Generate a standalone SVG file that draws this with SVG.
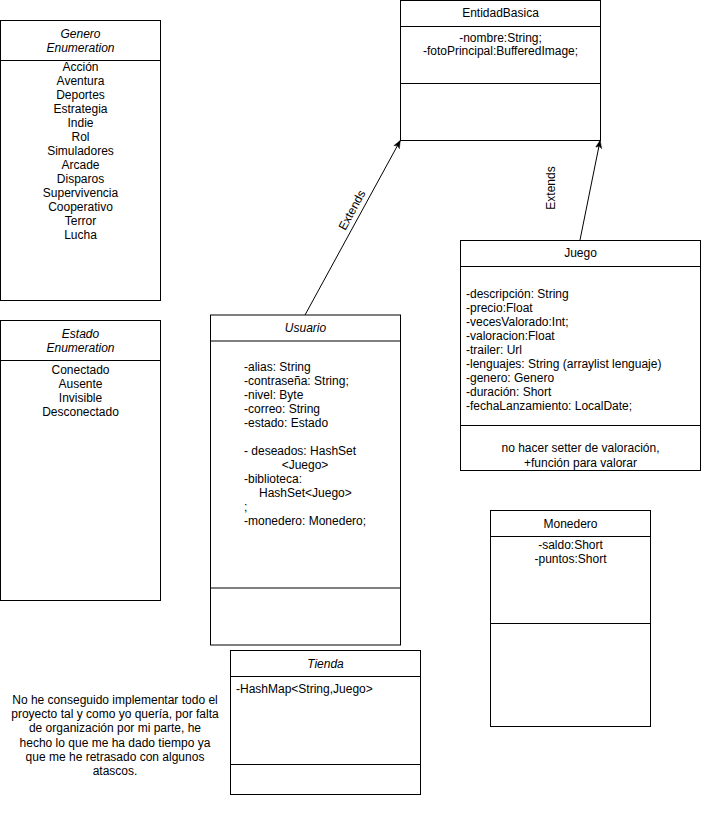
<svg xmlns="http://www.w3.org/2000/svg" width="701" height="821" viewBox="0 0 701 821">
<style>
.box{fill:#fff;stroke:#000;stroke-width:1}
.ln{stroke:#000;stroke-width:1;fill:none}
text{font-family:"Liberation Sans",Arial,sans-serif;font-size:12px;fill:#000}
.c{text-anchor:middle}
.i{font-style:italic}
.conn{stroke:#000;stroke-width:1;fill:none}
</style>
<defs>
<marker id="arr" viewBox="0 0 10 10" refX="9" refY="5" markerWidth="8" markerHeight="8" orient="auto" markerUnits="userSpaceOnUse">
<path d="M0,1 L10,5 L0,9 L2.5,5 Z" fill="#000" stroke="#000" stroke-width="0.5"/>
</marker>
</defs>
<rect width="701" height="821" fill="#fff"/>

<g id="genero">
<rect class="box" x="0.5" y="20.5" width="160" height="280"/>
<line class="ln" x1="0.5" y1="60.5" x2="160.5" y2="60.5"/>
<text class="c i" x="80.5" y="38">Genero</text>
<text class="c i" x="80.5" y="52">Enumeration</text>
<text class="c" x="80.5" y="71">Acción</text>
<text class="c" x="80.5" y="85">Aventura</text>
<text class="c" x="80.5" y="99">Deportes</text>
<text class="c" x="80.5" y="113">Estrategia</text>
<text class="c" x="80.5" y="127">Indie</text>
<text class="c" x="80.5" y="141">Rol</text>
<text class="c" x="80.5" y="155">Simuladores</text>
<text class="c" x="80.5" y="169">Arcade</text>
<text class="c" x="80.5" y="183">Disparos</text>
<text class="c" x="80.5" y="197">Supervivencia</text>
<text class="c" x="80.5" y="211">Cooperativo</text>
<text class="c" x="80.5" y="225">Terror</text>
<text class="c" x="80.5" y="239">Lucha</text>
</g>

<g id="estado">
<rect class="box" x="0.5" y="320.5" width="160" height="280"/>
<line class="ln" x1="0.5" y1="360.5" x2="160.5" y2="360.5"/>
<text class="c i" x="80.5" y="338">Estado</text>
<text class="c i" x="80.5" y="352">Enumeration</text>
<text class="c" x="80.5" y="374">Conectado</text>
<text class="c" x="80.5" y="388">Ausente</text>
<text class="c" x="80.5" y="402">Invisible</text>
<text class="c" x="80.5" y="416">Desconectado</text>
</g>

<g id="entidadBasica">
<rect class="box" x="400.5" y="0.5" width="200" height="140"/>
<line class="ln" x1="400.5" y1="26.5" x2="600.5" y2="26.5"/>
<line class="ln" x1="400.5" y1="83.5" x2="600.5" y2="83.5"/>
<text class="c" x="500.5" y="17">EntidadBasica</text>
<text class="c" x="500.5" y="42">-nombre:String;</text>
<text class="c" x="500.5" y="55">-fotoPrincipal:BufferedImage;</text>
</g>

<g id="juego">
<rect class="box" x="460.5" y="240.5" width="240" height="230"/>
<line class="ln" x1="460.5" y1="266.5" x2="700.5" y2="266.5"/>
<line class="ln" x1="460.5" y1="425.5" x2="700.5" y2="425.5"/>
<text class="c" x="580.5" y="257">Juego</text>
<text x="466" y="298">-descripción: String</text>
<text x="466" y="312">-precio:Float</text>
<text x="466" y="326">-vecesValorado:Int;</text>
<text x="466" y="340">-valoracion:Float</text>
<text x="466" y="354">-trailer: Url</text>
<text x="466" y="368">-lenguajes: String (arraylist lenguaje)</text>
<text x="466" y="382">-genero: Genero</text>
<text x="466" y="396">-duración: Short</text>
<text x="466" y="410">-fechaLanzamiento: LocalDate;</text>
<text class="c" x="580.5" y="452">no hacer setter de valoración,</text>
<text class="c" x="580.5" y="467">+función para valorar</text>
</g>

<g id="usuario">
<rect class="box" x="210.5" y="315" width="190" height="330"/>
<line class="ln" x1="210.5" y1="341" x2="400.5" y2="341"/>
<line class="ln" x1="210.5" y1="588" x2="400.5" y2="588"/>
<text class="c i" x="305.5" y="332">Usuario</text>
<text x="244" y="371">-alias: String</text>
<text x="244" y="385">-contraseña: String;</text>
<text x="244" y="399">-nivel: Byte</text>
<text x="244" y="413">-correo: String</text>
<text x="244" y="427">-estado: Estado</text>
<text x="244" y="455">- deseados: HashSet</text>
<text class="c" x="305" y="469">&lt;Juego&gt;</text>
<text x="244" y="483">-biblioteca:</text>
<text x="259" y="497">HashSet&lt;Juego&gt;</text>
<text x="244" y="511">;</text>
<text x="244" y="525">-monedero: Monedero;</text>
</g>

<g id="monedero">
<rect class="box" x="490.5" y="510.5" width="160" height="216"/>
<line class="ln" x1="490.5" y1="536.5" x2="650.5" y2="536.5"/>
<line class="ln" x1="490.5" y1="623.5" x2="650.5" y2="623.5"/>
<text class="c" x="570.5" y="528">Monedero</text>
<text class="c" x="570.5" y="549">-saldo:Short</text>
<text class="c" x="570.5" y="563">-puntos:Short</text>
</g>

<g id="tienda">
<rect class="box" x="230.5" y="650.5" width="190" height="144"/>
<line class="ln" x1="230.5" y1="676.5" x2="420.5" y2="676.5"/>
<line class="ln" x1="230.5" y1="764.5" x2="420.5" y2="764.5"/>
<text class="c i" x="325.5" y="668">Tienda</text>
<text x="236" y="693">-HashMap&lt;String,Juego&gt;</text>
</g>

<g id="nota">
<text class="c" x="115" y="704">No he conseguido implementar todo el</text>
<text class="c" x="115" y="718">proyecto tal y como yo quería, por falta</text>
<text class="c" x="115" y="732">de organización por mi parte, he</text>
<text class="c" x="115" y="747">hecho lo que me ha dado tiempo ya</text>
<text class="c" x="115" y="761">que me he retrasado con algunos</text>
<text class="c" x="115" y="775">atascos.</text>
</g>

<g id="connectors">
<line class="conn" x1="305" y1="315" x2="400" y2="141" marker-end="url(#arr)"/>
<line class="conn" x1="580" y1="240" x2="600" y2="141" marker-end="url(#arr)"/>
<text class="c" transform="translate(352,210) rotate(-61.4)" x="0" y="4">Extends</text>
<text class="c" transform="translate(551,188) rotate(-90)" x="0" y="4">Extends</text>
</g>
</svg>
